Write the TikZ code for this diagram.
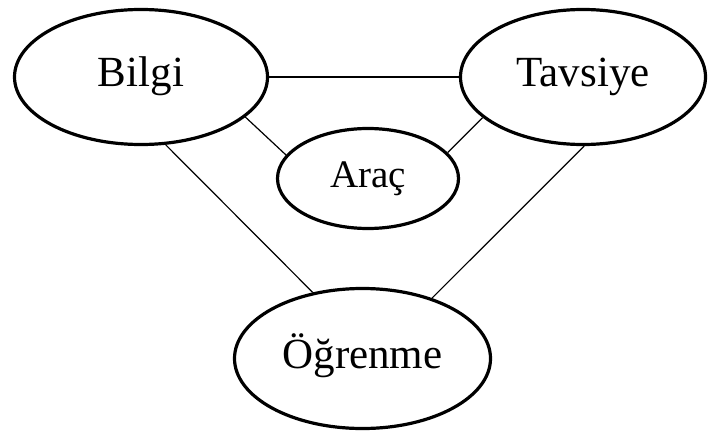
\documentclass[tikz,border=0pt]{standalone}
\usepackage{fontspec}
\setmainfont{Liberation Serif}
\usetikzlibrary{shapes.geometric}
\begin{document}
\begin{tikzpicture}[x=1pt,y=-1pt,
  bubble/.style={ellipse, draw, line width=3.2pt, inner sep=0pt,
    font=\fontsize{43}{51}\selectfont, text height=29.5pt, text depth=9.5pt},
  small/.style={font=\fontsize{39}{46}\selectfont, text height=26.5pt, text depth=8.5pt},
  link/.style={line width=1.2pt}]
\useasboundingbox (0,0) rectangle (708,433);
\node[bubble, minimum width=253pt, minimum height=135pt] (bilgi) at (141,77) {Bilgi};
\node[bubble, minimum width=245pt, minimum height=135pt] (tavsiye) at (583,77) {Tavsiye};
\node[bubble, small, minimum width=181pt, minimum height=100pt] (arac) at (368,178.5) {Araç};
\node[bubble, minimum width=256pt, minimum height=140pt] (ogrenme) at (362.5,358.5) {Öğrenme};
\draw[link] (bilgi) -- (tavsiye);
\draw[link] (bilgi.-21) -- (arac.164);
\draw[link] (tavsiye.-158) -- (arac.18);
\draw[link] (bilgi.-70) -- (ogrenme.127);
\draw[link] (tavsiye.-89) -- (ogrenme.41.5);
\end{tikzpicture}
\end{document}
